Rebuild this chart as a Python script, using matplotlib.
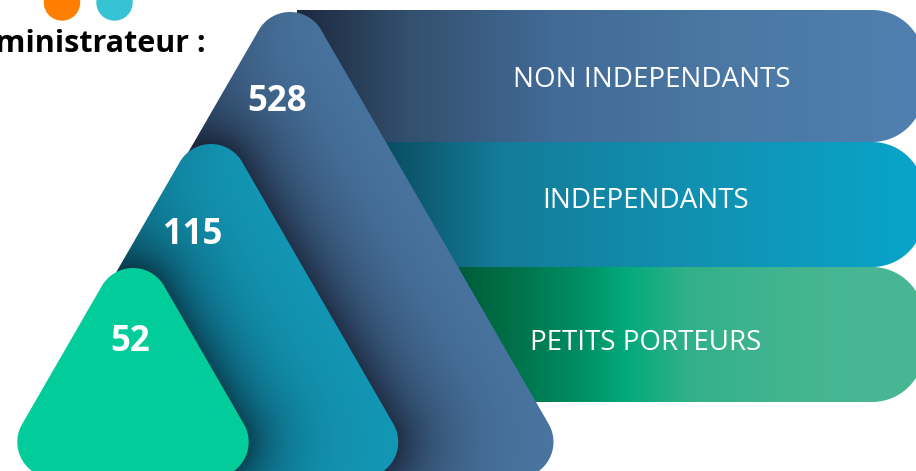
import numpy as np
import matplotlib
matplotlib.use("Agg")
import matplotlib.pyplot as plt
from matplotlib.path import Path
from matplotlib.patches import PathPatch, Circle
from matplotlib.colors import to_rgb

# data
values = [528, 115, 52]
labels = ["NON INDEPENDANTS", "INDEPENDANTS", "PETITS PORTEURS"]
title = "Administrateur :"

# layout, in pixels of the 916x471 canvas
W, H = 916, 471
tri_cx = [290, 211, 133]
tri_apex = [-24, 108, 232]
tri_base = 478
corner_r = 36
value_xy = [(277, 102), (193, 235), (130, 342)]
band_y = [(10, 142), (142, 267), (267, 402)]
band_left = [297, 250, 250]
band_right = 924
band_r = 52
label_xy = [(652, 80), (646, 201), (646, 343)]

# colours
tri_light = ["#4b78a4", "#1399b7", "#01cc9a"]
tri_dark = ["#1a263b", "#08394a", None]
shadow_w = [50, 40]
band_stops = [
    [(300, "#1d2a40"), (410, "#33506e"), (550, "#426a96"), (700, "#4a76a2"), (916, "#5080b0")],
    [(380, "#0a4a5e"), (500, "#137c99"), (700, "#1191b2"), (916, "#08a4c9")],
    [(460, "#005c3a"), (520, "#00744c"), (580, "#008e63"), (625, "#03a97b"),
     (690, "#32b189"), (800, "#45b590"), (916, "#4ab794")],
]


def rounded_poly(verts, radii, n=40):
    verts = np.asarray(verts, float)
    k = len(verts)
    radii = np.broadcast_to(radii, (k,))
    area = 0.5 * np.sum(verts[:, 0] * np.roll(verts[:, 1], -1) - np.roll(verts[:, 0], -1) * verts[:, 1])
    s = 1 if area > 0 else -1
    normals = []
    for i in range(k):
        d = verts[(i + 1) % k] - verts[i]
        normals.append(np.array([d[1], -d[0]]) * s / np.hypot(*d))
    pts, centers = [], []
    for i in range(k):
        n1, n2, r = normals[i - 1], normals[i], radii[i]
        c = verts[i] - r * (n1 + n2) / (1 + n1 @ n2)
        centers.append(c)
        a1, a2 = np.arctan2(n1[1], n1[0]), np.arctan2(n2[1], n2[0])
        da = (a2 - a1) % (2 * np.pi) if s > 0 else -((a1 - a2) % (2 * np.pi))
        a = a1 + np.linspace(0, da, n)
        pts.append(np.c_[c[0] + r * np.cos(a), c[1] + r * np.sin(a)])
    return np.vstack(pts), np.array(centers)


def poly_dist(X, Y, verts):
    # distance from each grid point to a convex polygon (0 inside)
    k = len(verts)
    dmin = np.full(X.shape, np.inf)
    cnt = np.zeros(X.shape)
    for i in range(k):
        px, py = verts[i]
        qx, qy = verts[(i + 1) % k]
        dx, dy = qx - px, qy - py
        t = np.clip(((X - px) * dx + (Y - py) * dy) / (dx * dx + dy * dy), 0, 1)
        dmin = np.minimum(dmin, np.hypot(X - px - t * dx, Y - py - t * dy))
        cnt += np.sign(dx * (Y - py) - dy * (X - px))
    return np.where(np.abs(cnt) == k, 0, dmin)


def triangle(i):
    hw = (tri_base - tri_apex[i]) / np.sqrt(3)
    return [(tri_cx[i], tri_apex[i]), (tri_cx[i] + hw, tri_base), (tri_cx[i] - hw, tri_base)]


def lerp(c0, c1, t):
    c0, c1 = np.array(to_rgb(c0)), np.array(to_rgb(c1))
    return c0 * (1 - t[..., None]) + c1 * t[..., None]


fig = plt.figure(figsize=(W / 100, H / 100), dpi=100)
ax = fig.add_axes([0, 0, 1, 1])
ax.set_xlim(0, W)
ax.set_ylim(H, 0)
ax.axis("off")

yy, xx = np.mgrid[0:H, 0:W] + 0.5

tri_paths, tri_inner = [], []
for i in range(3):
    pts, centers = rounded_poly(triangle(i), corner_r)
    tri_paths.append(pts)
    tri_inner.append(centers)


def add_image(img, pts, z):
    patch = PathPatch(Path(pts, closed=True), facecolor="none", edgecolor="none",
                      transform=ax.transData)
    ax.add_patch(patch)
    im = ax.imshow(img, extent=(0, W, H, 0), origin="upper", zorder=z, interpolation="bilinear")
    im.set_clip_path(patch)


# bands
for j in range(3):
    y0, y1 = band_y[j]
    rect = [(band_left[j], y0), (band_right, y0), (band_right, y1), (band_left[j], y1)]
    pts, _ = rounded_poly(rect, [0, band_r, band_r, 0])
    xs = [p[0] for p in band_stops[j]]
    cols = np.array([to_rgb(p[1]) for p in band_stops[j]])
    img = np.stack([np.interp(xx, xs, cols[:, c]) for c in range(3)], axis=-1)
    add_image(img, pts, 1 + j * 0.1)

# triangles, each shaded by the one in front of it
for i in range(3):
    if i < 2:
        d = np.maximum(poly_dist(xx, yy, tri_inner[i + 1]) - corner_r, 0)
        sh = 0.88 * np.exp(-d / shadow_w[i])
        left_x = tri_cx[i] - (yy - tri_apex[i]) / np.sqrt(3)
        dist_left = np.maximum((xx - left_x) * np.sqrt(3) / 2, 0)
        sh = np.clip(sh + 0.15 * np.exp(-dist_left / 30), 0, 1)
        img = lerp(tri_light[i], tri_dark[i], sh)
    else:
        img = np.broadcast_to(np.array(to_rgb(tri_light[i])), (H, W, 3))
    add_image(img, tri_paths[i], 3 + i)

for i in range(3):
    ax.text(value_xy[i][0], value_xy[i][1], str(values[i]), color="white", fontsize=25,
            fontweight="bold", family="Open Sans", ha="center", va="center", zorder=10)
    ax.text(label_xy[i][0], label_xy[i][1], labels[i], color="white", fontsize=20,
            family="Open Sans", ha="center", va="center", zorder=10)

ax.text(206, 44, title, color="black", fontsize=22, fontweight="bold", family="Open Sans",
        ha="right", va="center", zorder=10)
ax.add_patch(Circle((62, 2.5), 17.5, color="#ff8000", zorder=10))
ax.add_patch(Circle((114.5, 2.5), 17.5, color="#36c4d4", zorder=10))

fig.savefig("out.png", dpi=100)
